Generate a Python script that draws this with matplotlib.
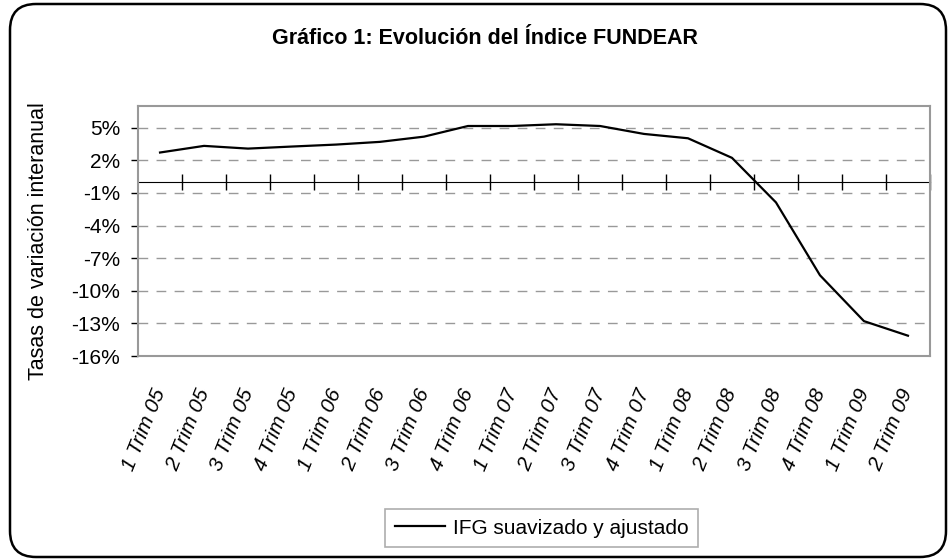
import numpy as np
import matplotlib
matplotlib.use("Agg")
import matplotlib.pyplot as plt
import matplotlib.patches as mpatches
from matplotlib.transforms import IdentityTransform
from matplotlib.ticker import FuncFormatter

plt.rcParams['font.family'] = ['Liberation Sans', 'DejaVu Sans']

# datos (tasas de variacion interanual, %)
categories = ['1 Trim 05', '2 Trim 05', '3 Trim 05', '4 Trim 05',
              '1 Trim 06', '2 Trim 06', '3 Trim 06', '4 Trim 06',
              '1 Trim 07', '2 Trim 07', '3 Trim 07', '4 Trim 07',
              '1 Trim 08', '2 Trim 08', '3 Trim 08', '4 Trim 08',
              '1 Trim 09', '2 Trim 09']
ifg = [2.72, 3.33, 3.08, 3.27, 3.45, 3.70, 4.18, 5.16, 5.16,
       5.32, 5.16, 4.43, 4.03, 2.23, -1.87, -8.57, -12.79, -14.13]
yticks = [-16, -13, -10, -7, -4, -1, 2, 5]
ymin, ymax = -16, 7

fig = plt.figure(figsize=(9.5, 5.59), dpi=100)
ax = fig.add_axes([0.1453, 0.3631, 0.8336, 0.4473])

x = np.arange(len(categories))
ax.plot(x, ifg, color='black', lw=1.6, label='IFG suavizado y ajustado')

ax.set_xlim(-0.5, len(categories) - 0.5)
ax.set_ylim(ymin, ymax)
ax.set_yticks(yticks)
ax.yaxis.set_major_formatter(FuncFormatter(lambda v, p: '%d%%' % v))
for v in yticks[1:]:
    ax.axhline(v, color='#999999', lw=1, dashes=(7, 6), zorder=0)

for s in ax.spines.values():
    s.set_color('#999999')
    s.set_linewidth(1.5)

ax.tick_params(axis='y', length=5, width=1, color='black', labelsize=15, pad=8)
ax.set_xticks(x)
ax.set_xticklabels(categories, rotation=68, ha='right', va='center',
                   rotation_mode='anchor', fontstyle='italic', fontsize=15)
ax.tick_params(axis='x', length=0, pad=24)

# eje de categorias en el cero
zero_frac = (0 - ymin) / (ymax - ymin)
sec = ax.secondary_xaxis(zero_frac)
sec.set_xticks(np.arange(0.5, len(categories), 1.0))
sec.set_xticklabels([])
sec.tick_params(axis='x', direction='inout', length=12, width=1, color='black')
sec.spines['bottom'].set_color('black')
sec.spines['bottom'].set_linewidth(1.2)

ax.set_ylabel('Tasas de variación interanual', fontsize=15.5)
ax.yaxis.set_label_coords(-0.113, 0.46)

fig.text(0.51, 0.932, 'Gráfico 1: Evolución del Índice FUNDEAR',
         ha='center', va='center', fontsize=15.5, fontweight='bold')

leg = fig.legend(loc='center', bbox_to_anchor=(0.57, 0.055), fontsize=15,
                 frameon=True, fancybox=False, handlelength=2.4,
                 borderpad=0.45, handletextpad=0.4)
leg.get_frame().set_edgecolor('#999999')
leg.get_frame().set_linewidth(1.2)

border = mpatches.FancyBboxPatch((10, 2), 936, 553,
                                 boxstyle='round,pad=0,rounding_size=26',
                                 transform=IdentityTransform(),
                                 facecolor='none', edgecolor='black', lw=1.8)
fig.patches.append(border)

fig.savefig('out.png', dpi=100, facecolor='white')
